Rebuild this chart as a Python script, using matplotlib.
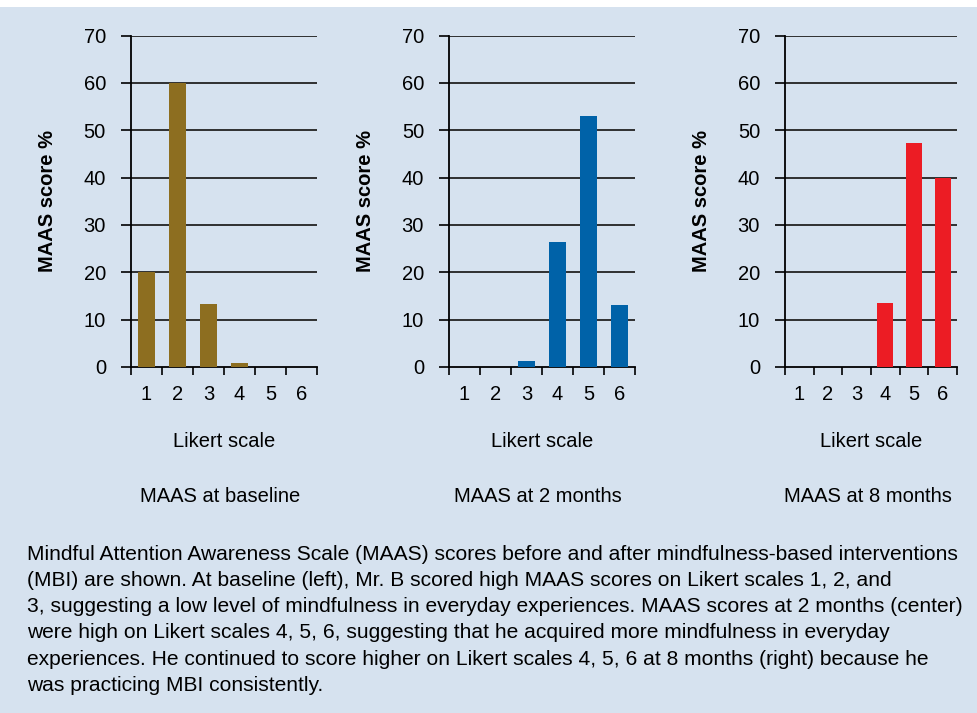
import matplotlib.pyplot as plt
from matplotlib.patches import Rectangle

# Data
likert = [1, 2, 3, 4, 5, 6]
baseline = [20, 60, 13.3, 0.9, 0, 0]
month2 = [0, 0, 1.3, 26.5, 53, 13]
month8 = [0, 0, 0, 13.5, 47.3, 40]
titles = ['MAAS at baseline', 'MAAS at 2 months', 'MAAS at 8 months']
colors = ['#8D6E20', '#0062A8', '#EC1C24']
yticks = [0, 10, 20, 30, 40, 50, 60, 70]

caption = ("Mindful Attention Awareness Scale (MAAS) scores before and after mindfulness-based interventions\n"
           "(MBI) are shown. At baseline (left), Mr. B scored high MAAS scores on Likert scales 1, 2, and\n"
           "3, suggesting a low level of mindfulness in everyday experiences. MAAS scores at 2 months (center)\n"
           "were high on Likert scales 4, 5, 6, suggesting that he acquired more mindfulness in everyday\n"
           "experiences. He continued to score higher on Likert scales 4, 5, 6 at 8 months (right) because he\n"
           "was practicing MBI consistently.")

bg = '#D6E2EF'
plt.rcParams['font.family'] = ['Liberation Sans', 'DejaVu Sans']

fig = plt.figure(figsize=(9.77, 7.13), dpi=100)
fig.patch.set_facecolor('white')
fig.patches.append(Rectangle((0, 0), 1, 1 - 7 / 713, transform=fig.transFigure,
                             facecolor=bg, edgecolor='none', zorder=-10))

# axes boxes in figure fractions
boxes = [(0.134, 0.4853, 0.1905, 0.4647),
         (0.4596, 0.4853, 0.1904, 0.4647),
         (0.8035, 0.4853, 0.176, 0.4647)]

for i, vals in enumerate([baseline, month2, month8]):
    ax = fig.add_axes(boxes[i])
    ax.set_facecolor('none')
    ax.bar(likert, vals, width=0.55, color=colors[i], zorder=3)
    ax.set_xlim(0.5, 6.5)
    ax.set_ylim(0, 70)
    ax.set_yticks(yticks)
    ax.set_xticks([x + 0.5 for x in [0] + likert], minor=False)
    ax.set_xticklabels([])
    ax.set_xticks(likert, minor=True)
    ax.set_xticklabels([str(x) for x in likert], minor=True, fontsize=14.5)
    ax.tick_params(axis='x', which='major', length=6, width=1.2, direction='out')
    ax.tick_params(axis='x', which='minor', length=0, pad=13)
    ax.tick_params(axis='y', length=7, width=1.2, pad=11, labelsize=14.5)
    for t in ax.get_yticklines():
        t.set_color('#222222')
    for y in yticks:
        if y > 0:
            ax.axhline(y, color='#222222', lw=1.3, zorder=1)
    for s in ['top', 'right']:
        ax.spines[s].set_visible(False)
    ax.spines['left'].set_linewidth(1.3)
    ax.spines['bottom'].set_linewidth(1.3)
    ax.set_ylabel('MAAS score %', fontsize=14.5, fontweight='bold', labelpad=19)
    ax.set_xlabel('Likert scale', fontsize=14.5, labelpad=20)
    ax.text(0.48, -0.39, titles[i], transform=ax.transAxes, ha='center',
            va='center', fontsize=14.5)

fig.text(0.0276, 0.236, caption, ha='left', va='top', fontsize=15.1,
         linespacing=1.48)

fig.savefig('out.png', dpi=100, facecolor=fig.get_facecolor())
